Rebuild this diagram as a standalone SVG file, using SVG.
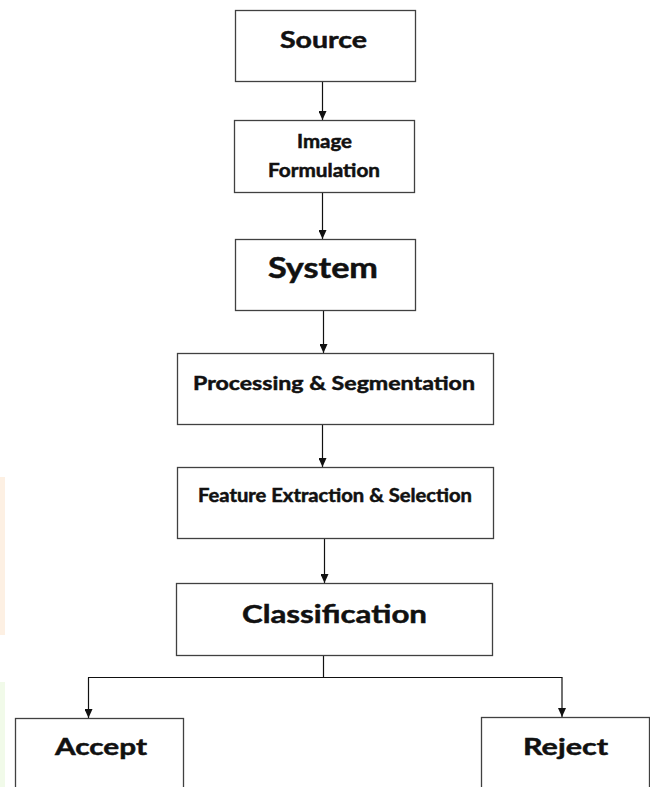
<svg xmlns="http://www.w3.org/2000/svg" width="650" height="787" viewBox="0 0 650 787">
<style>
.box{fill:#ffffff;stroke:#404040;stroke-width:1.3}
.t{font-family:Lato,"Open Sans","Liberation Sans",sans-serif;font-weight:bold;fill:#111111;stroke:#111111;stroke-width:0.5;text-anchor:middle}
.ln{fill:none;stroke:#111111;stroke-width:1.2}
</style>
<defs>
<marker id="ah" viewBox="0 0 9 8" refX="9" refY="4" markerWidth="9" markerHeight="8" markerUnits="userSpaceOnUse" orient="auto">
<path d="M0,0 L9,4 L0,8 Z" fill="#111111"/>
</marker>
</defs>
<rect x="0" y="0" width="650" height="787" fill="#ffffff"/>
<rect x="0" y="477" width="5" height="158" fill="#fdf0e3"/>
<rect x="0" y="682" width="5" height="105" fill="#f1fae9"/>
<g id="connectors">
<path class="ln" d="M322.5,81 V120" marker-end="url(#ah)"/>
<path class="ln" d="M322.5,192 V239" marker-end="url(#ah)"/>
<path class="ln" d="M323.5,310 V353" marker-end="url(#ah)"/>
<path class="ln" d="M322.5,424 V467" marker-end="url(#ah)"/>
<path class="ln" d="M324.5,538 V583" marker-end="url(#ah)"/>
<path class="ln" d="M323.5,655 V677.5"/>
<path class="ln" d="M88,677.5 H562.5"/>
<path class="ln" d="M88.5,677.5 V718" marker-end="url(#ah)"/>
<path class="ln" d="M562,677.5 V717" marker-end="url(#ah)"/>
</g>
<g id="source">
<rect class="box" x="235.5" y="10.5" width="180" height="71"/>
<text class="t" x="323.5" y="48" font-size="23" textLength="87" lengthAdjust="spacingAndGlyphs">Source</text>
</g>
<g id="image-formulation">
<rect class="box" x="234.5" y="120.5" width="180" height="72"/>
<text class="t" x="324.5" y="148" font-size="18.5" textLength="55" lengthAdjust="spacingAndGlyphs">Image</text>
<text class="t" x="324" y="177" font-size="18.5" textLength="112" lengthAdjust="spacingAndGlyphs">Formulation</text>
</g>
<g id="system">
<rect class="box" x="235.5" y="239.5" width="180" height="71"/>
<text class="t" x="323" y="278" font-size="28" textLength="110" lengthAdjust="spacingAndGlyphs">System</text>
</g>
<g id="processing">
<rect class="box" x="177.5" y="353.5" width="316" height="71"/>
<text class="t" x="334" y="390" font-size="19.5" textLength="282" lengthAdjust="spacingAndGlyphs">Processing &amp; Segmentation</text>
</g>
<g id="feature">
<rect class="box" x="177.5" y="467.5" width="316" height="71"/>
<text class="t" x="335" y="502" font-size="18" textLength="274" lengthAdjust="spacingAndGlyphs">Feature Extraction &amp; Selection</text>
</g>
<g id="classification">
<rect class="box" x="176.5" y="583.5" width="316" height="72"/>
<text class="t" x="334.5" y="623" font-size="25.5" textLength="185" lengthAdjust="spacingAndGlyphs">Classification</text>
</g>
<g id="accept">
<rect class="box" x="15.5" y="718.5" width="168" height="80"/>
<text class="t" x="101" y="755" font-size="23.7" textLength="92" lengthAdjust="spacingAndGlyphs">Accept</text>
</g>
<g id="reject">
<rect class="box" x="481.5" y="717.5" width="168" height="80"/>
<text class="t" x="565.5" y="755" font-size="23.7" textLength="85" lengthAdjust="spacingAndGlyphs">Reject</text>
</g>
</svg>
